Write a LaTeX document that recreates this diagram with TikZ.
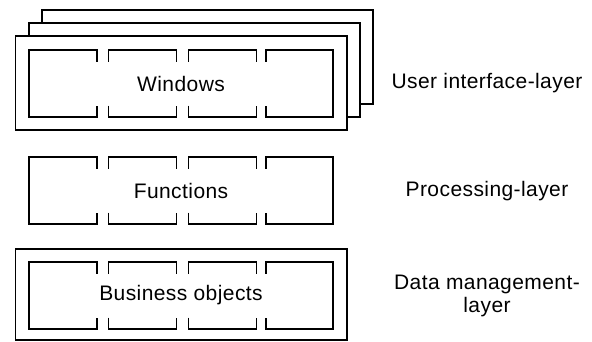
\documentclass[tikz,border=0pt]{standalone}
\usepackage{fontspec}
\setmainfont{Liberation Sans}[LetterSpace=2]
\begin{document}
\begin{tikzpicture}[x=1pt,y=-1pt,line width=1.4pt,
  frame/.style={draw=black,fill=white},
  lbl/.style={font=\fontsize{21}{23}\selectfont,inner sep=0pt,anchor=center},
  side/.style={font=\fontsize{21}{23}\selectfont,inner sep=0pt,align=center},
  boxrow/.pic={
    \def\s{11.5}\def\h{67}
    \draw (97,\s) -- (97,0) -- (29,0) -- (29,\h) -- (97,\h) -- (97,\h-\s);
    \draw (108.5,\s) -- (108.5,0) -- (176.5,0) -- (176.5,\s);
    \draw (108.5,\h-\s) -- (108.5,\h) -- (176.5,\h) -- (176.5,\h-\s);
    \draw (188.5,\s) -- (188.5,0) -- (256.5,0) -- (256.5,\s);
    \draw (188.5,\h-\s) -- (188.5,\h) -- (256.5,\h) -- (256.5,\h-\s);
    \draw (266,\s) -- (266,0) -- (333,0) -- (333,\h) -- (266,\h) -- (266,\h-\s);
  }]
\useasboundingbox (0,0) rectangle (592,341);
% user interface layer: stacked windows
\draw[frame] (42,10) rectangle (373,104);
\draw[frame] (29,23) rectangle (360,117);
\draw[frame] (15.5,36) rectangle (347,130);
\pic at (0,50) {boxrow};
\node[lbl] (win) at (181,83.5) {Windows};
% processing layer
\pic at (0,157) {boxrow};
\node[lbl] (fun) at (181,190.5) {Functions};
% data management layer
\draw[frame] (15.5,249) rectangle (347,340);
\pic at (0,262) {boxrow};
\node[lbl] (bo) at (181,295.5) {Business objects};
% side labels
\node[side] (ui) at (487,83) {User interface-layer};
\node[side] (pl) at (487,191) {Processing-layer};
\node[side] (dm) at (487,296) {Data management-\\layer};
\end{tikzpicture}
\end{document}
